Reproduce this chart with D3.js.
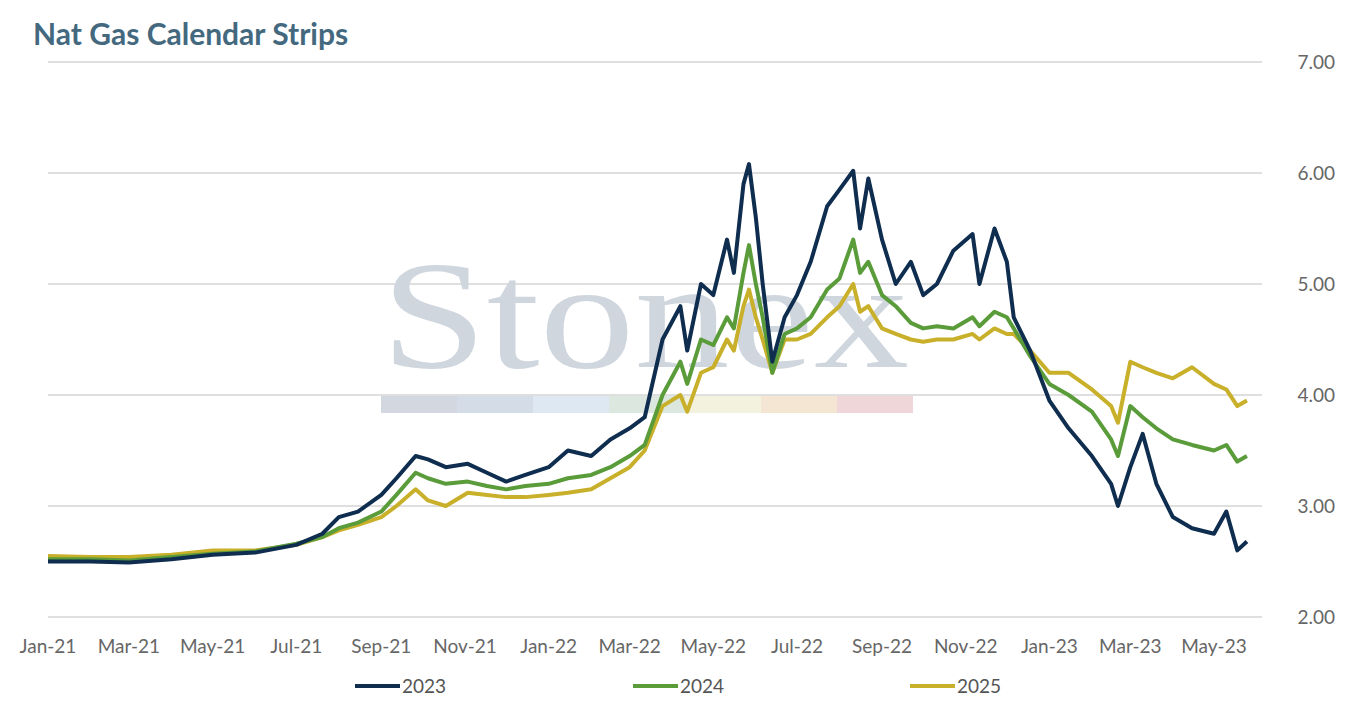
<!DOCTYPE html>
<html><head><meta charset="utf-8">
<script src="https://cdn.jsdelivr.net/npm/d3@7"></script>
<style>body{margin:0;background:#fff;font-family:Lato,"Noto Sans",sans-serif}</style>
</head><body><svg id="c" width="1350" height="707"></svg>
<script>
// dates (semi-monthly points) and values per strip
const dates = ["2021-01-01","2021-02-01","2021-03-01","2021-04-01","2021-05-01","2021-06-01","2021-07-01","2021-07-20","2021-08-01","2021-08-15","2021-09-01","2021-09-12","2021-09-26","2021-10-05","2021-10-18","2021-11-03","2021-11-17","2021-12-01","2021-12-15","2022-01-01","2022-01-15","2022-02-01","2022-02-15","2022-03-01","2022-03-12","2022-03-25","2022-04-07","2022-04-12","2022-04-22","2022-05-01","2022-05-11","2022-05-16","2022-05-23","2022-05-27","2022-06-01","2022-06-06","2022-06-13","2022-06-22","2022-07-01","2022-07-11","2022-07-23","2022-08-01","2022-08-11","2022-08-16","2022-08-22","2022-09-01","2022-09-11","2022-09-22","2022-10-01","2022-10-11","2022-10-23","2022-11-06","2022-11-11","2022-11-22","2022-12-01","2022-12-06","2022-12-18","2023-01-01","2023-01-15","2023-02-01","2023-02-15","2023-02-20","2023-03-01","2023-03-10","2023-03-20","2023-04-01","2023-04-15","2023-05-01","2023-05-10","2023-05-18","2023-05-25"];
const s2023 = [2.50,2.50,2.49,2.52,2.56,2.58,2.65,2.75,2.90,2.95,3.10,3.25,3.45,3.42,3.35,3.38,3.30,3.22,3.28,3.35,3.50,3.45,3.60,3.70,3.80,4.50,4.80,4.40,5.00,4.90,5.40,5.10,5.90,6.08,5.60,5.00,4.30,4.70,4.90,5.20,5.70,5.85,6.02,5.50,5.95,5.40,5.00,5.20,4.90,5.00,5.30,5.45,5.00,5.50,5.20,4.70,4.40,3.95,3.70,3.45,3.20,3.00,3.35,3.65,3.20,2.90,2.80,2.75,2.95,2.60,2.68];
const s2024 = [2.52,2.52,2.51,2.54,2.57,2.59,2.66,2.72,2.80,2.85,2.95,3.10,3.30,3.25,3.20,3.22,3.18,3.15,3.18,3.20,3.25,3.28,3.35,3.45,3.55,4.00,4.30,4.10,4.50,4.45,4.70,4.60,5.10,5.35,5.00,4.70,4.20,4.55,4.60,4.70,4.95,5.05,5.40,5.10,5.20,4.90,4.80,4.65,4.60,4.62,4.60,4.70,4.62,4.75,4.70,4.60,4.35,4.10,4.00,3.85,3.60,3.45,3.90,3.80,3.70,3.60,3.55,3.50,3.55,3.40,3.45];
const s2025 = [2.55,2.54,2.54,2.56,2.60,2.60,2.65,2.72,2.78,2.83,2.90,3.00,3.15,3.05,3.00,3.12,3.10,3.08,3.08,3.10,3.12,3.15,3.25,3.35,3.50,3.90,4.00,3.85,4.20,4.25,4.50,4.40,4.80,4.95,4.70,4.50,4.20,4.50,4.50,4.55,4.70,4.80,5.00,4.75,4.80,4.60,4.55,4.50,4.48,4.50,4.50,4.55,4.50,4.60,4.55,4.55,4.40,4.20,4.20,4.05,3.90,3.75,4.30,4.25,4.20,4.15,4.25,4.10,4.05,3.90,3.95];
const seriesNames = ["2023","2024","2025"];
const colors = ["#0f2d4f","#5a9b3a","#c9b02b"];
const yTicks = [2,3,4,5,6,7];
const xTickDates = ["2021-01-01","2021-03-01","2021-05-01","2021-07-01","2021-09-01","2021-11-01","2022-01-01","2022-03-01","2022-05-01","2022-07-01","2022-09-01","2022-11-01","2023-01-01","2023-03-01","2023-05-01"];

const svg = d3.select('#c');
const parse = d3.timeParse('%Y-%m-%d');
const x = d3.scaleTime().domain([parse("2021-01-01"), parse("2023-06-05")]).range([48, 1262]);
const y = d3.scaleLinear().domain([2, 7]).range([617, 62]);

svg.append('text').attr('x', 33).attr('y', 45).text('Nat Gas Calendar Strips')
  .attr('font-size', 30).attr('font-weight', 700).attr('fill', '#44697f');

// gridlines + right axis labels
yTicks.forEach(t => {
  svg.append('line').attr('x1', 48).attr('x2', 1262).attr('y1', y(t)).attr('y2', y(t))
    .attr('stroke', '#d4d4d4').attr('stroke-width', 1.3);
  svg.append('text').attr('x', 1335).attr('y', y(t) + 7).attr('text-anchor', 'end')
    .attr('font-size', 19).attr('fill', '#666').text(t.toFixed(2));
});

// watermark
svg.append('text').attr('x', 381).attr('y', 367)
  .attr('font-family', 'Liberation Serif, DejaVu Serif, serif').attr('font-size', 155)
  .attr('textLength', 528).attr('lengthAdjust', 'spacingAndGlyphs')
  .attr('fill', '#cfd6de').text('Stonex');
["#d3d8e0","#d4dce8","#dde8f3","#dbe7df","#f3f2df","#f5e6d4","#efd6d8"].forEach((c, i) => {
  svg.append('rect').attr('x', 381 + i * 76).attr('y', 396).attr('width', 76).attr('height', 17).attr('fill', c);
});

// x axis labels
xTickDates.forEach(d => {
  svg.append('text').attr('x', x(parse(d))).attr('y', 653).attr('text-anchor', 'middle')
    .attr('font-size', 19).attr('fill', '#666').text(d3.timeFormat('%b-%y')(parse(d)));
});

const line = d3.line().x(d => x(d[0])).y(d => y(d[1]));
[s2025, s2024, s2023].forEach((s, k) => {
  const idx = 2 - k;
  svg.append('path').datum(dates.map((d, i) => [parse(d), s[i]]))
    .attr('d', line).attr('fill', 'none').attr('stroke', colors[idx]).attr('stroke-width', 4)
    .attr('stroke-linejoin', 'round');
});

// legend
const legX = [355, 633, 910];
seriesNames.forEach((n, i) => {
  svg.append('line').attr('x1', legX[i]).attr('x2', legX[i] + 45).attr('y1', 686).attr('y2', 686)
    .attr('stroke', colors[i]).attr('stroke-width', 4);
  svg.append('text').attr('x', legX[i] + 47).attr('y', 693).attr('font-size', 19).attr('fill', '#555').text(n);
});
</script></body></html>
